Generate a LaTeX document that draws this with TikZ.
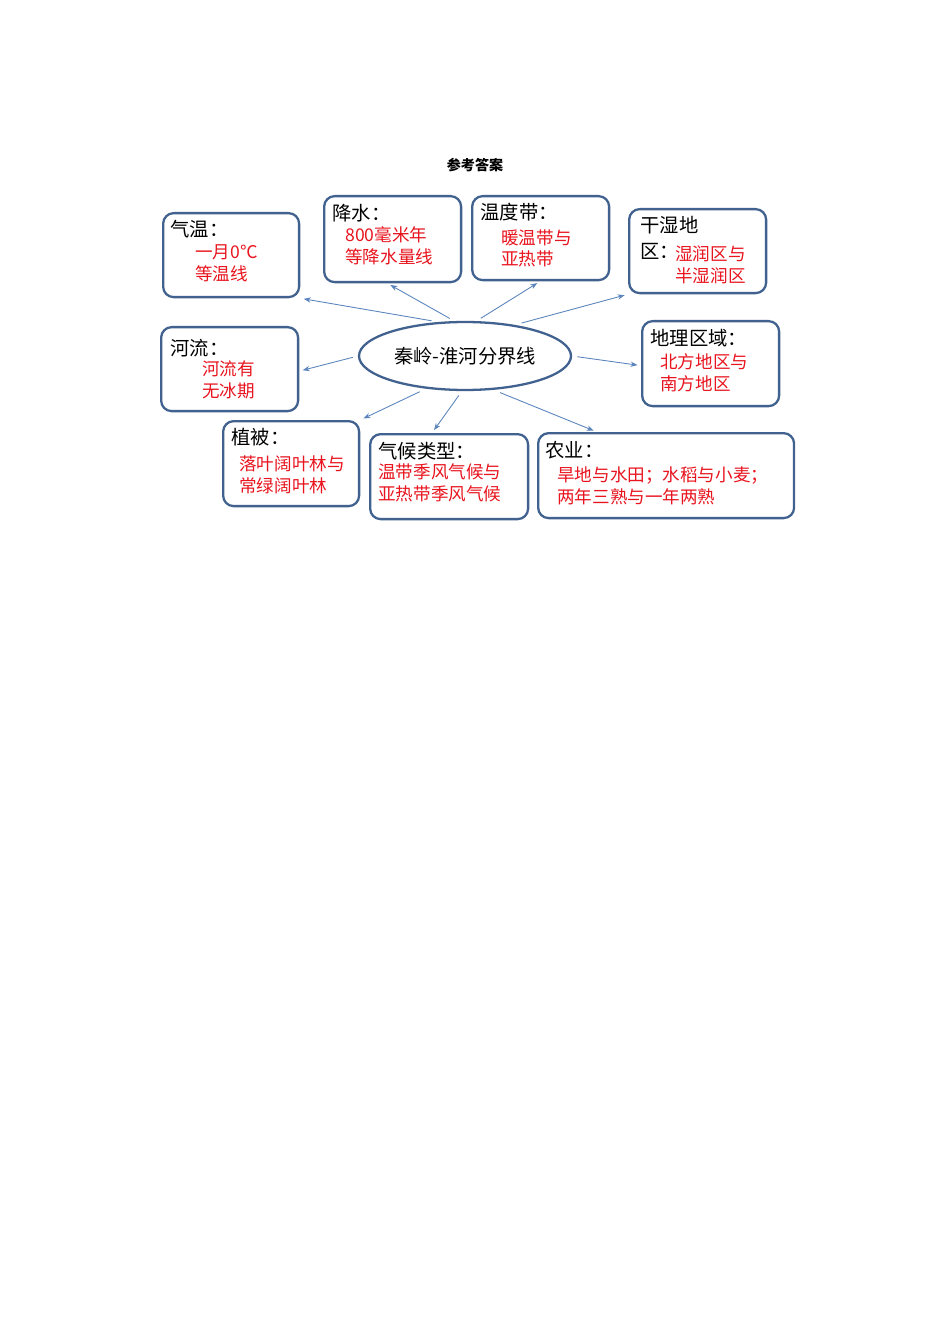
\documentclass[tikz,border=0pt]{standalone}
\usepackage{fontspec}
\setmainfont{Noto Sans CJK SC}
\usetikzlibrary{shapes.geometric, arrows.meta, positioning}
\definecolor{boxblue}{HTML}{41618F}
\definecolor{arrblue}{HTML}{5A84BC}
\definecolor{ansred}{HTML}{E8141E}
\tikzset{
  topic/.style = {rectangle, draw=boxblue, line width=1.3pt, rounded corners=6pt, anchor=north west, inner sep=0pt},
  head/.style = {anchor=west, font=\fontsize{11}{13}\selectfont, inner sep=0pt},
  ans/.style = {anchor=north west, text=ansred, font=\fontsize{10}{12.5}\selectfont, align=left, inner sep=0pt},
  arr/.style = {draw=arrblue, line width=0.5pt, -{Stealth[length=4pt,width=3pt]}, shorten >=2pt}
}
\begin{document}
\begin{tikzpicture}[x=0.02cm, y=-0.02cm]
    \useasboundingbox (0,0) rectangle (950,1344);
    % title
    \node[font=\bfseries\fontsize{8}{10}\selectfont] (title) at (475,165) {参考答案};
    % centre
    \node[ellipse, draw=boxblue, line width=1.3pt, minimum width=212\pgflinewidth, inner sep=0pt,
          minimum width=4.24cm, minimum height=1.36cm, font=\fontsize{11}{13}\selectfont] (qinling) at (465,356) {秦岭-淮河分界线};
    % boxes
    \node[topic, minimum width=2.72cm, minimum height=1.68cm] (qiwen) at (162,212) {};
    \node[topic, minimum width=2.74cm, minimum height=1.72cm] (jiangshui) at (323,195) {};
    \node[topic, minimum width=2.74cm, minimum height=1.68cm] (wendu) at (471,195) {};
    \node[topic, minimum width=2.74cm, minimum height=1.68cm] (ganshi) at (628,208) {};
    \node[topic, minimum width=2.74cm, minimum height=1.68cm] (heliu) at (160,326) {};
    \node[topic, minimum width=2.74cm, minimum height=1.70cm] (dili) at (641,320) {};
    \node[topic, minimum width=2.72cm, minimum height=1.70cm] (zhibei) at (222,420) {};
    \node[topic, minimum width=3.16cm, minimum height=1.70cm] (qihou) at (369,433) {};
    \node[topic, minimum width=5.12cm, minimum height=1.70cm] (nongye) at (537,432) {};
    % texts
    \node[head] (qiwenh) at (170,229) {气温：};
    \node[ans] (qiwena) at (195,244) {一月0℃\\等温线};
    \node[head] (jiangshuih) at (332,213) {降水：};
    \node[ans] (jiangshuia) at (345,226) {800毫米年\\等降水量线};
    \node[head] (wenduh) at (480,212) {温度带：};
    \node[ans] (wendua) at (501,229) {暖温带与\\亚热带};
    \node[head] (ganshih) at (640,225) {干湿地};
    \node[head] (ganshiq) at (640,251) {区：};
    \node[ans] (ganshia) at (675,245) {湿润区与\\半湿润区};
    \node[head] (heliuh) at (170,348) {河流：};
    \node[ans] (heliua) at (202,360) {河流有\\无冰期};
    \node[head] (dilih) at (650,338) {地理区域：};
    \node[ans] (dilia) at (660,353) {北方地区与\\南方地区};
    \node[head] (zhibeih) at (231,437) {植被：};
    \node[ans] (zhibeia) at (239,455) {落叶阔叶林与\\常绿阔叶林};
    \node[head] (qihouh) at (378,451) {气候类型：};
    \node[ans] (qihoua) at (378,463) {温带季风气候与\\亚热带季风气候};
    \node[head] (nongyeh) at (545,450) {农业：};
    \node[ans] (nongyea) at (557,466) {旱地与水田；水稻与小麦；\\两年三熟与一年两熟};
    % arrows
    \draw[arr, shorten <=4pt] (qinling.128) -- (qiwen.south east);
    \draw[arr, shorten <=3pt] (qinling.107) -- ([xshift=-1.5cm]jiangshui.south east);
    \draw[arr, shorten <=3pt] (qinling.72) -- ([xshift=-1.4cm]wendu.south east);
    \draw[arr, shorten <=4pt] (qinling.32) -- (ganshi.south west);
    \draw[arr, shorten <=3pt] (qinling.west) -- ([yshift=-0.04cm]heliu.east);
    \draw[arr, shorten <=3pt] (qinling.east) -- ([yshift=-0.04cm]dili.west);
    \draw[arr, shorten <=4pt] (qinling.220) -- (zhibei.north east);
    \draw[arr, shorten <=3pt] (qinling.265) -- ([xshift=1.26cm]qihou.north west);
    \draw[arr, shorten <=4pt] (qinling.310) -- ([xshift=1.2cm]nongye.north west);
\end{tikzpicture}
\end{document}
